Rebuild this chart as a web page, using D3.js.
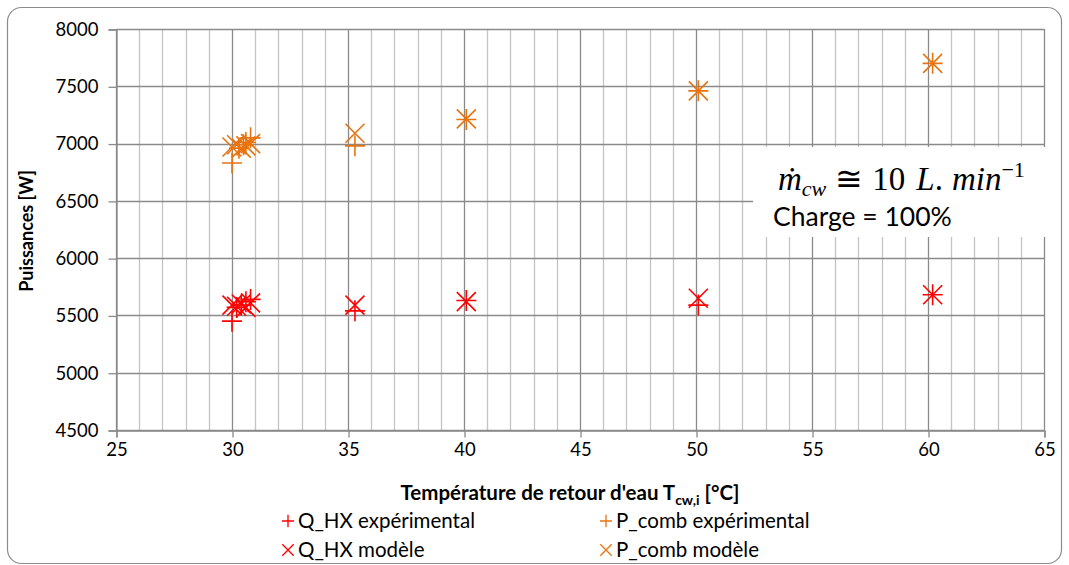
<!DOCTYPE html>
<html><head><meta charset="utf-8">
<script src="https://cdn.jsdelivr.net/npm/d3@7"></script>
<style>
body{margin:0;background:#fff;}
svg{display:block;font-family:Lato,"Open Sans",sans-serif;}
</style></head>
<body>
<svg id="c" width="1069" height="565"></svg>
<script>
// ---- data ----
const tempQExp   = [30.0, 30.2, 30.4, 30.6, 30.8, 35.3, 40.1, 50.1, 60.2];
const qhxExp     = [5450, 5570, 5590, 5620, 5640, 5540, 5630, 5590, 5680];
const tempQMod   = [30.0, 30.2, 30.4, 30.6, 30.8, 35.3, 40.1, 50.1, 60.2];
const qhxMod     = [5590, 5580, 5600, 5570, 5610, 5590, 5620, 5650, 5680];
const tempPExp   = [30.0, 30.3, 30.5, 30.6, 30.8, 35.3, 40.1, 50.1, 60.2];
const pcombExp   = [6830, 6960, 6990, 7010, 7050, 6980, 7210, 7460, 7700];
const tempPMod   = [30.0, 30.2, 30.4, 30.6, 30.8, 35.3, 40.1, 50.1, 60.2];
const pcombMod   = [6970, 6990, 6960, 6980, 7000, 7090, 7215, 7460, 7700];
const xTicks = [25, 30, 35, 40, 45, 50, 55, 60, 65];
const yTicks = [4500, 5000, 5500, 6000, 6500, 7000, 7500, 8000];
const seriesNames = ["Q_HX expérimental", "P_comb expérimental", "Q_HX modèle", "P_comb modèle"];

const RED = "#ff0000", ORANGE = "#e8730f";
const svg = d3.select("#c");
const L = 116, R = 1044, T = 29, B = 430;
const x = d3.scaleLinear().domain([25, 65]).range([L, R]);
const y = d3.scaleLinear().domain([4500, 8000]).range([B, T]);

// outer border
svg.append("rect").attr("x", 7.5).attr("y", 7.5).attr("width", 1054).attr("height", 556)
  .attr("rx", 14).attr("fill", "#fff").attr("stroke", "#8c8c8c").attr("stroke-width", 1.2);

// minor vertical grid
const minor = d3.range(26, 65).filter(v => v % 5 !== 0);
svg.append("g").selectAll("line").data(minor).join("line")
  .attr("x1", d => Math.round(x(d)) + 0.5).attr("x2", d => Math.round(x(d)) + 0.5)
  .attr("y1", T).attr("y2", B).attr("stroke", "#c4c4c4").attr("stroke-width", 1.3);
// major vertical grid
svg.append("g").selectAll("line").data(xTicks).join("line")
  .attr("x1", d => Math.round(x(d)) + 0.5).attr("x2", d => Math.round(x(d)) + 0.5)
  .attr("y1", T).attr("y2", B).attr("stroke", "#8a8a8a").attr("stroke-width", 1.3);
// horizontal grid
svg.append("g").selectAll("line").data(yTicks).join("line")
  .attr("x1", L).attr("x2", R)
  .attr("y1", d => Math.round(y(d)) + 0.5).attr("y2", d => Math.round(y(d)) + 0.5)
  .attr("stroke", "#8a8a8a").attr("stroke-width", 1.3);

// axes
const yAxis = d3.axisLeft(y).tickValues(yTicks).tickSize(8).tickPadding(10).tickFormat(d3.format("d"));
const gy = svg.append("g").attr("transform", `translate(${L + 0.5},0.5)`).call(yAxis);
const xAxis = d3.axisBottom(x).tickValues(xTicks).tickSize(7).tickPadding(5).tickFormat(d3.format("d"));
const gx = svg.append("g").attr("transform", `translate(0.5,${B + 0.5})`).call(xAxis);
[gx, gy].forEach(g => {
  g.select(".domain").attr("stroke", "#8a8a8a").attr("stroke-width", 1.3);
  g.selectAll(".tick line").attr("stroke", "#8a8a8a").attr("stroke-width", 1.3);
  g.selectAll(".tick text").attr("fill", "#000").style("font-family", "Lato, sans-serif").style("font-size", "18.5px");
});

// markers
const plusPath = "M-10,0H10M0,-10.5V10.5";
const crossPath = "M-9.5,-9.5L9.5,9.5M-9.5,9.5L9.5,-9.5";
function drawSeries(ts, vs, path, color) {
  svg.append("g").selectAll("path").data(ts.map((t, i) => [t, vs[i]])).join("path")
    .attr("transform", d => `translate(${x(d[0])},${y(d[1])})`)
    .attr("d", path).attr("fill", "none").attr("stroke", color).attr("stroke-width", 1.6);
}
drawSeries(tempPMod, pcombMod, crossPath, ORANGE);
drawSeries(tempPExp, pcombExp, plusPath, ORANGE);
drawSeries(tempQMod, qhxMod, crossPath, RED);
drawSeries(tempQExp, qhxExp, plusPath, RED);

// annotation box
svg.append("rect").attr("x", 753).attr("y", 147).attr("width", 297).attr("height", 90).attr("fill", "#fff");
const ann = svg.append("text").attr("x", 778).attr("y", 190)
  .style("font-family", "'Liberation Serif', 'DejaVu Serif', serif").style("font-size", "33px").attr("fill", "#000");
ann.append("tspan").style("font-style", "italic").text("ṁ");
ann.append("tspan").style("font-style", "italic").style("font-size", "22px").attr("dy", 6).text("cw");
ann.append("tspan").attr("dy", -6).attr("dx", 9).text("≅");
ann.append("tspan").attr("dx", 9).text("10");
ann.append("tspan").attr("dx", 11).style("font-style", "italic").text("L");
ann.append("tspan").text(".");
ann.append("tspan").attr("dx", 9).style("font-style", "italic").text("min");
ann.append("tspan").style("font-size", "22px").attr("dy", -13).text("−1");
svg.append("text").attr("x", 773).attr("y", 226).style("font-size", "26.5px").attr("fill", "#000").text("Charge = 100%");

// y title
svg.append("text").attr("transform", "translate(33,231) rotate(-90)").attr("text-anchor", "middle")
  .style("font-size", "18px").style("font-weight", "bold").text("Puissances [W]");
// x title
const xt = svg.append("text").attr("x", 570).attr("y", 500).attr("text-anchor", "middle")
  .style("font-size", "20.5px").style("font-weight", "bold");
xt.append("tspan").text("Température de retour d'eau T");
xt.append("tspan").style("font-size", "14px").attr("dy", 5).text("cw,i");
xt.append("tspan").attr("dy", -5).text(" [°C]");

// legend
const legItems = [
  {name: seriesNames[0], path: plusPath, color: RED, lx: 288, ly: 521},
  {name: seriesNames[1], path: plusPath, color: ORANGE, lx: 606, ly: 521},
  {name: seriesNames[2], path: crossPath, color: RED, lx: 288, ly: 550},
  {name: seriesNames[3], path: crossPath, color: ORANGE, lx: 606, ly: 550}
];
const lg = svg.append("g").selectAll("g").data(legItems).join("g")
  .attr("transform", d => `translate(${d.lx},${d.ly})`);
lg.append("path").attr("d", d => d.path).attr("transform", "scale(0.6)")
  .attr("fill", "none").attr("stroke", d => d.color).attr("stroke-width", 2.2);
lg.append("text").attr("x", 10).attr("y", 7).style("font-size", "20.5px").attr("fill", "#000").text(d => d.name);
</script>
</body></html>
